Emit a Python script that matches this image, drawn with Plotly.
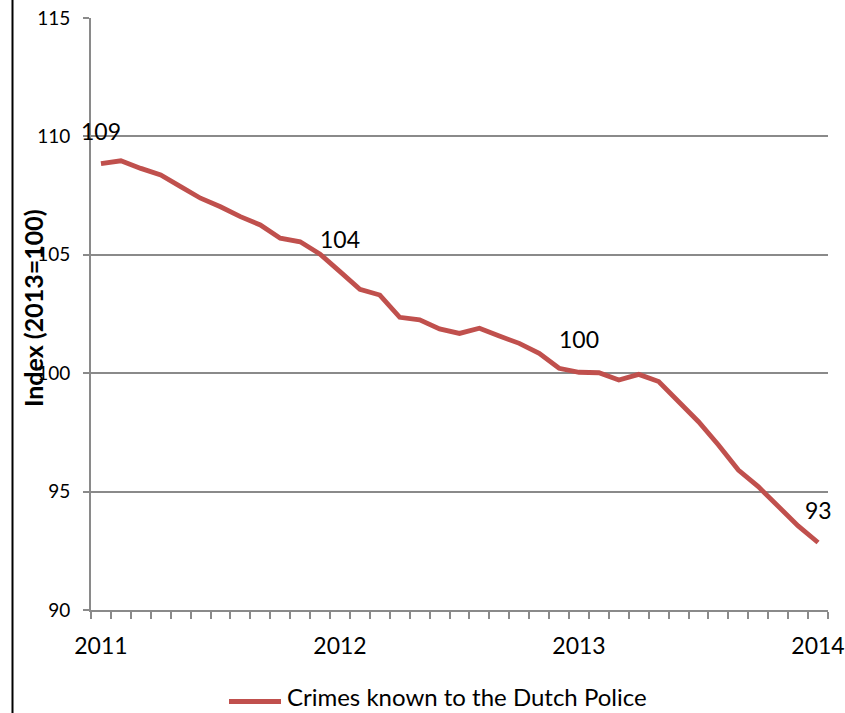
import plotly.graph_objects as go

# Monthly index values, Jan 2011 .. Jan 2014 (2013=100)
months = list(range(37))
index_values = [108.85, 108.97, 108.65, 108.37, 107.88, 107.39, 107.03, 106.61, 106.26, 105.70,
                105.55, 105.03, 104.29, 103.54, 103.30, 102.36, 102.25, 101.87, 101.68, 101.90,
                101.57, 101.26, 100.84, 100.21, 100.04, 100.02, 99.71, 99.95, 99.65, 98.80,
                97.95, 96.97, 95.91, 95.21, 94.36, 93.55, 92.85]
series_name = "Crimes known to the Dutch Police"
year_tick_pos = [0, 12, 24, 36]
year_tick_text = ["2011", "2012", "2013", "2014"]
label_pos = [0, 12, 24, 36]
label_text = ["109", "104", "100", "93"]
y_ticks = [90, 95, 100, 105, 110, 115]

FONT = "Lato"
GRID = "#8a8a8a"
RED = "#C0504D"

W, H = 845, 713
ml, mr, mt, mb = 91, 17, 18, 103
pw, ph = W - ml - mr, H - mt - mb


def px_x(x):
    return (x - ml) / pw


def px_y(y):
    return (H - mb - y) / ph


fig = go.Figure()
fig.add_trace(go.Scatter(x=months, y=index_values, mode="lines", name=series_name,
                         line=dict(color=RED, width=4.8), showlegend=False))

for p, t in zip(label_pos, label_text):
    fig.add_annotation(x=months[p], y=index_values[p], text=t, showarrow=False,
                       yshift=33, font=dict(family=FONT, size=23, color="black"))

# y-axis title as annotation (overlapping tick labels like the original)
fig.add_annotation(xref="paper", yref="paper", x=px_x(33), y=px_y(308),
                   text="<b>Index (2013=100)</b>", textangle=-90, showarrow=False,
                   xanchor="center", yanchor="middle",
                   font=dict(family=FONT, size=25, color="black"))

# left frame line
fig.add_shape(type="line", xref="paper", yref="paper",
              x0=px_x(12.5), x1=px_x(12.5), y0=px_y(H), y1=px_y(0),
              line=dict(color="black", width=2))

# legend (drawn manually to match the original's long swatch)
fig.add_shape(type="line", xref="paper", yref="paper",
              x0=px_x(229), x1=px_x(281), y0=px_y(701.5), y1=px_y(701.5),
              line=dict(color=RED, width=4.8))
fig.add_annotation(xref="paper", yref="paper", x=px_x(285), y=px_y(696),
                   text=series_name, showarrow=False, xanchor="left", yanchor="middle",
                   font=dict(family=FONT, size=24, color="black"))

fig.update_layout(
    width=W, height=H,
    margin=dict(l=ml, r=mr, t=mt, b=mb, autoexpand=False),
    paper_bgcolor="white", plot_bgcolor="white",
    font=dict(family=FONT, color="black"),
    showlegend=False,
    xaxis=dict(range=[-0.5, 36.5], tickmode="array", tickvals=year_tick_pos,
               ticktext=year_tick_text, ticks="", showgrid=False, zeroline=False,
               showline=True, linecolor=GRID, linewidth=2, automargin=False,
               tickfont=dict(family=FONT, size=23, color="black"),
               ticklabelstandoff=14,
               minor=dict(tickmode="array", tickvals=[m - 0.5 for m in months] + [36.5],
                          ticks="outside", ticklen=7, tickcolor=GRID, tickwidth=2,
                          showgrid=False)),
    yaxis=dict(range=[90, 115], tickmode="array", tickvals=y_ticks, ticks="outside",
               ticklen=6, tickcolor=GRID, tickwidth=2, automargin=False,
               showgrid=True, gridcolor=GRID, gridwidth=2, zeroline=False,
               showline=True, linecolor=GRID, linewidth=2,
               tickfont=dict(family=FONT, size=19, color="black"),
               ticklabelstandoff=9),
)

fig.write_html("out.html", config={"displayModeBar": False},
               post_script="document.body.style.margin='0px';")
